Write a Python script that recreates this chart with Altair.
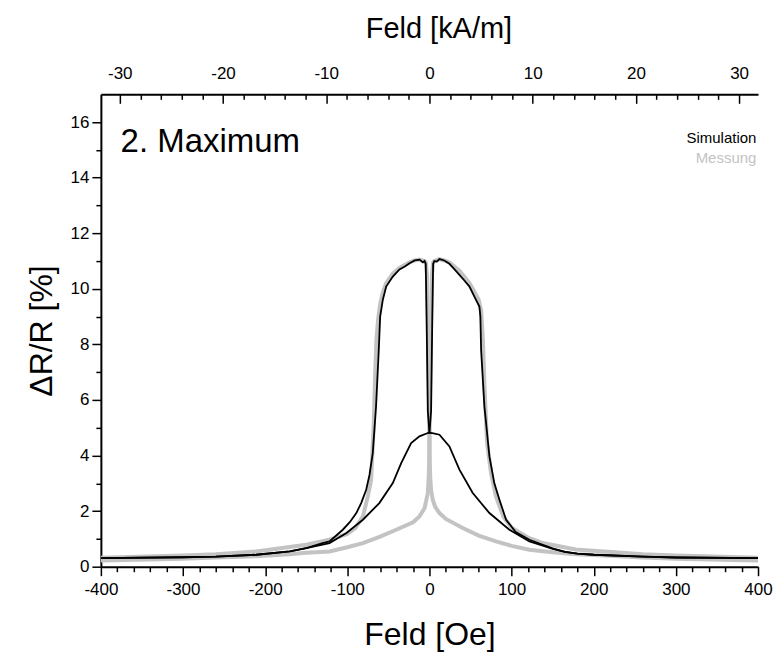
import altair as alt
import pandas as pd

# ---------------- data ----------------
OE_PER_KAM = 12.566

# Simulation, sweep downward (+400 -> -400): low hump on the right, tall part on the left
sim_dn_lo_H = [400, 300, 260, 200, 180, 165, 150, 138, 121.7, 97.3, 73, 52.7, 36.5, 24.3, 12.2, 5, 0]
sim_dn_lo_V = [0.31, 0.33, 0.36, 0.43, 0.47, 0.53, 0.64, 0.76, 0.91, 1.33, 1.93, 2.65, 3.49, 4.33, 4.75, 4.8, 4.82]
sim_dn_hi_H = [0, -2, -3.5, -4.5, -6, -8, -12, -18, -24.3, -30, -36.5, -44.6, -52.7, -56.8, -60, -61.7,
               -65, -69, -73, -77, -83, -89, -97, -105.5, -121.7, -130, -150, -170, -211, -260, -300, -400]
sim_dn_hi_V = [4.82, 5.6, 9.0, 10.9, 11.0, 10.95, 11.05, 11.02, 10.92, 10.8, 10.7, 10.44, 10.08, 9.6, 9.0, 7.8,
               5.77, 4.09, 3.3, 2.77, 2.3, 1.93, 1.6, 1.33, 0.91, 0.85, 0.67, 0.55, 0.43, 0.36, 0.34, 0.31]

# Simulation, sweep upward (-400 -> +400): low hump on the left, tall part on the right
sim_up_lo_H = [-400, -300, -260, -211, -170, -150, -121.7, -101, -81, -61, -44.6, -34.4, -22.3, -12.2, -2, 0]
sim_up_lo_V = [0.31, 0.34, 0.36, 0.43, 0.55, 0.67, 0.85, 1.21, 1.69, 2.29, 3.01, 3.73, 4.45, 4.69, 4.81, 4.82]
sim_up_hi_H = [0, 2, 3.5, 4.5, 6, 9, 12.2, 18, 24.3, 30, 36.5, 42.5, 48.7, 54.7, 60.8, 62, 62.9,
               66.9, 73, 79, 85.2, 93.3, 105, 121.7, 138, 150, 165, 180, 200, 260, 300, 400]
sim_up_hi_V = [4.82, 5.6, 9.0, 10.9, 11.0, 10.98, 11.07, 11.02, 10.9, 10.72, 10.5, 10.3, 10.08, 9.72, 9.36, 9.0, 7.8,
               5.77, 3.97, 3.0, 2.41, 1.69, 1.25, 0.97, 0.79, 0.66, 0.53, 0.47, 0.43, 0.36, 0.33, 0.31]

# Measurement, sweep downward: cusp on the right, tall part on the left
mes_dn_lo_H = [400, 300, 260, 200, 178, 150, 121.7, 100, 81, 60, 40.5, 20, 12.2, 7, 4, 2, 1, 0.5, 0]
mes_dn_lo_V = [0.22, 0.29, 0.33, 0.42, 0.45, 0.52, 0.61, 0.75, 0.91, 1.12, 1.39, 1.72, 1.93, 2.15, 2.41, 2.75, 3.2, 3.6, 4.8]
mes_dn_hi_H = [0, -1.5, -3, -4.5, -6, -12, -18, -24.3, -36.5, -44.6, -52.7, -57, -60, -62.5, -64.5, -66,
               -68, -71, -75, -81, -90, -100, -122, -150, -211, -260, -300, -400]
mes_dn_hi_V = [4.8, 8.0, 10.5, 10.95, 11.0, 11.05, 11.02, 10.95, 10.75, 10.55, 10.2, 9.85, 9.45, 8.9, 8.2, 7.0,
               5.0, 3.13, 2.53, 1.81, 1.4, 1.18, 0.97, 0.79, 0.55, 0.45, 0.4, 0.32]

# Measurement, sweep upward: cusp on the left, tall part on the right
mes_up_lo_H = [-400, -300, -260, -211, -170, -150, -121.7, -100, -81, -60, -40.5, -20, -12.2, -6, -2, -1, -0.5, 0]
mes_up_lo_V = [0.22, 0.29, 0.33, 0.38, 0.45, 0.5, 0.55, 0.7, 0.85, 1.08, 1.33, 1.6, 1.81, 2.1, 2.65, 3.2, 3.6, 4.8]
mes_up_hi_H = [0, 1.5, 3, 4.5, 6, 12.2, 18, 24.3, 36.5, 48.7, 54.7, 60, 63, 65, 67, 70, 75, 81, 90, 100,
               120, 138, 178, 260, 300, 400]
mes_up_hi_V = [4.8, 8.0, 10.5, 10.95, 11.0, 11.07, 11.02, 10.95, 10.65, 10.2, 9.9, 9.6, 9.2, 8.2, 6.5, 4.5, 3.37,
               2.53, 1.8, 1.4, 1.05, 0.85, 0.62, 0.45, 0.4, 0.32]

x_ticks_oe = list(range(-400, 401, 20))
y_ticks = list(range(0, 17, 1))
top_major_kam = list(range(-30, 31, 10))
top_minor_kam = [v for v in range(-30, 31, 2) if v % 10 != 0]

labels_text = ["2. Maximum", "Simulation", "Messung"]

# ---------------- build tables ----------------
def branch(parts, name):
    rows, i = [], 0
    for H, V in parts:
        for h, v in zip(H, V):
            rows.append({"H": h, "V": v, "branch": name, "idx": i})
            i += 1
    return rows

sim_df = pd.DataFrame(branch([(sim_dn_lo_H, sim_dn_lo_V), (sim_dn_hi_H, sim_dn_hi_V)], "dn")
                      + branch([(sim_up_lo_H, sim_up_lo_V), (sim_up_hi_H, sim_up_hi_V)], "up"))
mes_df = pd.DataFrame(branch([(mes_dn_lo_H, mes_dn_lo_V), (mes_dn_hi_H, mes_dn_hi_V)], "dn")
                      + branch([(mes_up_lo_H, mes_up_lo_V), (mes_up_hi_H, mes_up_hi_V)], "up"))

FONT = "Liberation Sans"

x_axis = alt.Axis(
    values=x_ticks_oe,
    labelExpr="datum.value % 100 == 0 ? '' + datum.value : ''",
    tickSize={"condition": {"test": "datum.value % 100 != 0", "value": 5}, "value": 9},
    title="Feld [Oe]", titleFontSize=32, titlePadding=22,
    labelFontSize=17, labelPadding=6, labelFlush=False, grid=False,
)
y_axis = alt.Axis(
    values=y_ticks,
    labelExpr="datum.value % 2 == 0 ? '' + datum.value : ''",
    tickSize={"condition": {"test": "datum.value % 2 != 0", "value": 5}, "value": 9},
    title="ΔR/R [%]", titleFontSize=32, titlePadding=12,
    labelFontSize=17, labelPadding=3, labelFlush=False, grid=False,
)
x_scale = alt.Scale(domain=[-400, 400], nice=False, zero=False)
y_scale = alt.Scale(domain=[0, 17], nice=False, zero=False)

X = alt.X("H:Q", scale=x_scale, axis=x_axis)
Y = alt.Y("V:Q", scale=y_scale, axis=y_axis)

mes = alt.Chart(mes_df).mark_line(color="#c3c3c3", strokeWidth=4, clip=True).encode(
    x=X, y=Y, detail="branch:N", order="idx:Q")
sim = alt.Chart(sim_df).mark_line(color="#000000", strokeWidth=1.8, clip=True).encode(
    x=X, y=Y, detail="branch:N", order="idx:Q")

title_df = pd.DataFrame({"H": [-376], "V": [14.93], "t": [labels_text[0]]})
title_txt = alt.Chart(title_df).mark_text(
    align="left", baseline="alphabetic", fontSize=33, font=FONT, color="black").encode(
    x=X, y=Y, text="t:N")

leg_df = pd.DataFrame({"H": [398, 398], "V": [15.26, 14.52], "t": labels_text[1:], "c": ["#000000", "#c3c3c3"]})
leg_txt = alt.Chart(leg_df).mark_text(
    align="right", baseline="alphabetic", fontSize=15, font=FONT).encode(
    x=X, y=Y, text="t:N", color=alt.Color("c:N", scale=None))

main = alt.layer(mes, sim, title_txt, leg_txt)

kam_dom = [-400 / OE_PER_KAM, 400 / OE_PER_KAM]
top_df = pd.DataFrame({"K": kam_dom})

top_labels = alt.Chart(top_df).mark_point(opacity=0).encode(
    x=alt.X("K:Q", scale=alt.Scale(domain=kam_dom, nice=False, zero=False),
            axis=alt.Axis(orient="top", values=top_major_kam,
                          labelExpr="'' + datum.value",
                          ticks=False, tickSize=0, domain=True, labelFlush=False,
                          labelFontSize=17, labelPadding=12,
                          title="Feld [kA/m]", titleFontSize=29, titlePadding=21,
                          titleX=338, grid=False)))
top_major = alt.Chart(top_df).mark_point(opacity=0).encode(
    x=alt.X("K:Q", scale=alt.Scale(domain=kam_dom, nice=False, zero=False),
            axis=alt.Axis(orient="top", values=top_major_kam, labels=False, domain=False,
                          tickSize=9, offset=-9, title=None, grid=False)))
top_minor = alt.Chart(top_df).mark_point(opacity=0).encode(
    x=alt.X("K:Q", scale=alt.Scale(domain=kam_dom, nice=False, zero=False),
            axis=alt.Axis(orient="top", values=top_minor_kam, labels=False, domain=False,
                          tickSize=5, offset=-5, title=None, grid=False)))

chart = alt.layer(main, top_labels, top_major, top_minor).resolve_scale(x="independent").properties(
    width=658, height=473,
    padding={"left": 93, "top": 86, "right": 15, "bottom": 86},
    autosize=alt.AutoSizeParams(type="none"),
).configure_view(stroke=None).configure_axis(
    labelFont=FONT, titleFont=FONT, labelColor="black", titleColor="black",
    titleFontWeight="normal", domainColor="black", tickColor="black",
    domainWidth=2, tickWidth=1.5,
)

chart.save("out.html", embed_options={"renderer": "svg", "actions": False})
